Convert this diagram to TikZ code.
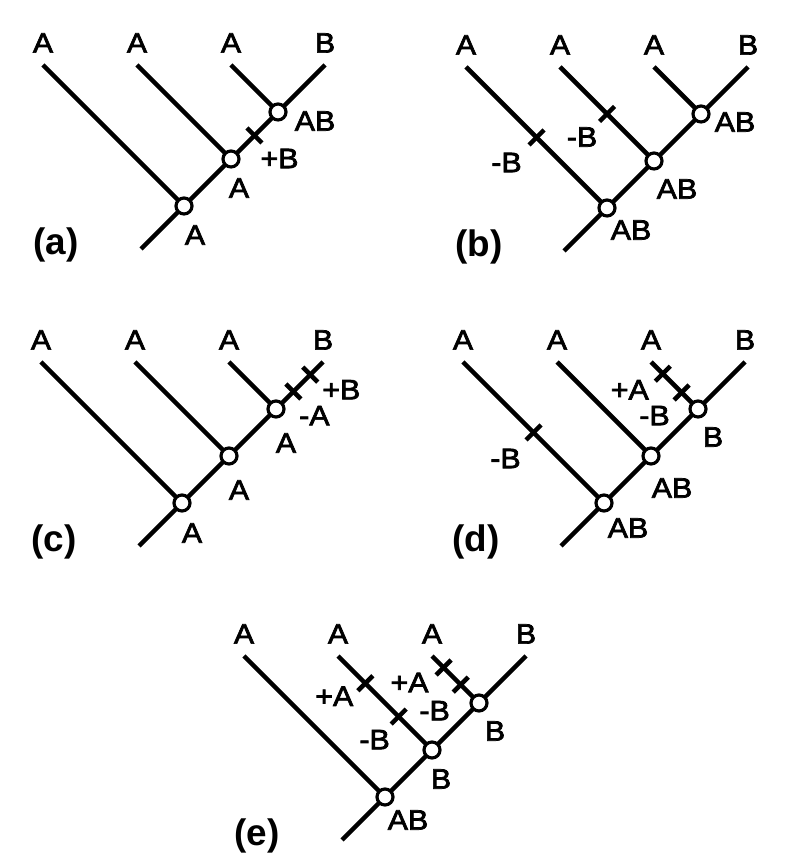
\documentclass[tikz,border=0pt]{standalone}
\usepackage{fontspec}
\setmainfont{Liberation Sans}[FakeStretch=1.08,FakeBold=2.5]
\newfontfamily\panelfont{Liberation Sans}
\usetikzlibrary{calc,positioning}

\begin{document}
\begin{tikzpicture}[
  branch/.style={line width=2.6pt},
  hub/.style={circle,draw,fill=white,line width=1.8pt,inner sep=0pt,minimum size=0.32cm},
  tick/.style={line width=2.6pt},
  lab/.style={inner sep=0pt,font=\fontsize{16}{16}\selectfont},
  panel/.style={inner sep=0pt,font=\panelfont\bfseries\fontsize{21}{21}\selectfont}]
\useasboundingbox (0,0) rectangle (16.08,17.24);

% the five trees
\foreach \p/\x/\y in {a/3.68/13.12, b/12.14/13.08, c/3.64/7.18, d/12.08/7.18, e/7.70/1.30}{
  \begin{scope}[shift={(\x,\y)}]
    \coordinate (\p-s) at (-0.86,-0.86);
    \coordinate (\p-r) at (0,0);
    \coordinate (\p-m) at (0.94,0.94);
    \coordinate (\p-t) at (1.88,1.88);
    \coordinate (\p-1) at (-2.82,2.82);
    \coordinate (\p-2) at (-0.94,2.82);
    \coordinate (\p-3) at (0.94,2.82);
    \coordinate (\p-4) at (2.82,2.82);
  \end{scope}
  \draw[branch] (\p-s) -- (\p-r) -- (\p-m) -- (\p-t) -- (\p-4);
  \draw[branch] (\p-r) -- (\p-1);
  \draw[branch] (\p-m) -- (\p-2);
  \draw[branch] (\p-t) -- (\p-3);
  \node[hub] (\p-R) at (\p-r) {};
  \node[hub] (\p-M) at (\p-m) {};
  \node[hub] (\p-T) at (\p-t) {};
  \node[lab,above=0.24 of \p-1] (\p-L1) {A};
  \node[lab,above=0.24 of \p-2] (\p-L2) {A};
  \node[lab,above=0.24 of \p-3] (\p-L3) {A};
  \node[lab,above=0.24 of \p-4] (\p-L4) {B};
}

% (a)
\coordinate (a-x1) at ($(a-m)!0.5!(a-t)$);
\draw[tick] ($(a-x1)+(-.15,.15)$) -- ($(a-x1)+(.15,-.15)$);
\node[lab] (a-y1) at ($(a-x1)+(0.50,-0.46)$) {+B};
\node[lab] (a-yt) at ($(a-t)+(0.74,-0.18)$) {AB};
\node[lab] (a-ym) at ($(a-m)+(0.16,-0.58)$) {A};
\node[lab] (a-yr) at ($(a-r)+(0.22,-0.58)$) {A};
\node[panel] (a-tag) at ($(a-r)+(-2.56,-0.78)$) {(a)};

% (b)
\coordinate (b-x1) at ($(b-r)!0.5!(b-1)$);
\coordinate (b-x2) at ($(b-m)!0.5!(b-2)$);
\draw[tick] ($(b-x1)+(-.15,-.15)$) -- ($(b-x1)+(.15,.15)$);
\draw[tick] ($(b-x2)+(-.15,-.15)$) -- ($(b-x2)+(.15,.15)$);
\node[lab] (b-y1) at ($(b-x1)+(-0.60,-0.50)$) {-B};
\node[lab] (b-y2) at ($(b-x2)+(-0.50,-0.46)$) {-B};
\node[lab] (b-yt) at ($(b-t)+(0.68,-0.16)$) {AB};
\node[lab] (b-ym) at ($(b-m)+(0.46,-0.56)$) {AB};
\node[lab] (b-yr) at ($(b-r)+(0.48,-0.44)$) {AB};
\node[panel] (b-tag) at ($(b-r)+(-2.56,-0.78)$) {(b)};

% (c)
\coordinate (c-x1) at ($(c-t)!0.37!(c-4)$);
\coordinate (c-x2) at ($(c-t)!0.73!(c-4)$);
\draw[tick] ($(c-x1)+(-.15,.15)$) -- ($(c-x1)+(.15,-.15)$);
\draw[tick] ($(c-x2)+(-.15,.15)$) -- ($(c-x2)+(.15,-.15)$);
\node[lab] (c-y1) at ($(c-x1)+(0.42,-0.48)$) {-A};
\node[lab] (c-y2) at ($(c-x2)+(0.62,-0.30)$) {+B};
\node[lab] (c-yt) at ($(c-t)+(0.20,-0.68)$) {A};
\node[lab] (c-ym) at ($(c-m)+(0.20,-0.68)$) {A};
\node[lab] (c-yr) at ($(c-r)+(0.20,-0.60)$) {A};
\node[panel] (c-tag) at ($(c-r)+(-2.56,-0.78)$) {(c)};

% (d)
\coordinate (d-x1) at ($(d-r)!0.5!(d-1)$);
\coordinate (d-x2) at ($(d-t)!0.35!(d-3)$);
\coordinate (d-x3) at ($(d-t)!0.75!(d-3)$);
\draw[tick] ($(d-x1)+(-.15,-.15)$) -- ($(d-x1)+(.15,.15)$);
\draw[tick] ($(d-x2)+(-.15,-.15)$) -- ($(d-x2)+(.15,.15)$);
\draw[tick] ($(d-x3)+(-.15,-.15)$) -- ($(d-x3)+(.15,.15)$);
\node[lab] (d-y1) at ($(d-x1)+(-0.56,-0.52)$) {-B};
\node[lab] (d-y2) at ($(d-x2)+(-0.54,-0.46)$) {-B};
\node[lab] (d-y3) at ($(d-x3)+(-0.66,-0.32)$) {+A};
\node[lab] (d-yt) at ($(d-t)+(0.30,-0.56)$) {B};
\node[lab] (d-ym) at ($(d-m)+(0.42,-0.64)$) {AB};
\node[lab] (d-yr) at ($(d-r)+(0.48,-0.50)$) {AB};
\node[panel] (d-tag) at ($(d-r)+(-2.56,-0.78)$) {(d)};

% (e)
\coordinate (e-x1) at ($(e-m)!0.355!(e-2)$);
\coordinate (e-x2) at ($(e-m)!0.71!(e-2)$);
\coordinate (e-x3) at ($(e-t)!0.39!(e-3)$);
\coordinate (e-x4) at ($(e-t)!0.755!(e-3)$);
\foreach \k in {1,...,4}
  \draw[tick] ($(e-x\k)+(-.15,-.15)$) -- ($(e-x\k)+(.15,.15)$);
\node[lab] (e-y1) at ($(e-x1)+(-0.48,-0.46)$) {-B};
\node[lab] (e-y2) at ($(e-x2)+(-0.62,-0.26)$) {+A};
\node[lab] (e-y3) at ($(e-x3)+(-0.52,-0.52)$) {-B};
\node[lab] (e-y4) at ($(e-x4)+(-0.68,-0.30)$) {+A};
\node[lab] (e-yt) at ($(e-t)+(0.32,-0.56)$) {B};
\node[lab] (e-ym) at ($(e-m)+(0.18,-0.58)$) {B};
\node[lab] (e-yr) at ($(e-r)+(0.46,-0.46)$) {AB};
\node[panel] (e-tag) at ($(e-r)+(-2.56,-0.78)$) {(e)};
\end{tikzpicture}
\end{document}
